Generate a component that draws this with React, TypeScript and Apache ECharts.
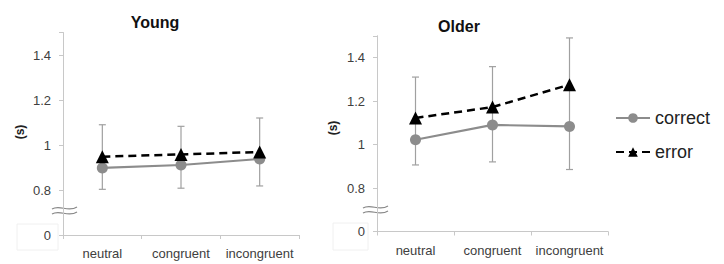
import React, { useEffect, useRef } from "react";
import * as echarts from "echarts";

const categories = ["neutral", "congruent", "incongruent"];
const panelTitles = ["Young", "Older"];

const youngCorrect = [0.898, 0.911, 0.938];
const youngError = [0.948, 0.958, 0.969];
const youngHigh = [1.09, 1.083, 1.12];
const youngLow = [0.803, 0.808, 0.818];

const olderCorrect = [1.022, 1.09, 1.083];
const olderError = [1.122, 1.172, 1.275];
const olderHigh = [1.31, 1.358, 1.49];
const olderLow = [0.906, 0.92, 0.885];

const FONT = "Liberation Sans";

function yLabel(v: number) {
  const r = Math.round(v * 10) / 10;
  if (Math.abs(r - 0.6) < 1e-6) return "0";
  if (Math.abs(r - 1.5) < 1e-6) return "";
  if (Math.abs(r - 1) < 1e-6) return "1";
  return r.toFixed(1);
}

function errBars(idx: number, low: number[], high: number[]) {
  return {
    type: "custom",
    xAxisIndex: idx,
    yAxisIndex: idx,
    z: 1,
    silent: true,
    data: low.map((l, i) => [i, l, high[i]]),
    encode: { x: 0, y: [1, 2] },
    renderItem: (params: any, api: any) => {
      const i = api.value(0);
      const lo = api.coord([i, api.value(1)]);
      const hi = api.coord([i, api.value(2)]);
      const st = { stroke: "#a0a0a0", lineWidth: 1.2 };
      return {
        type: "group",
        children: [
          { type: "line", shape: { x1: lo[0], y1: lo[1], x2: hi[0], y2: hi[1] }, style: st },
          { type: "line", shape: { x1: lo[0] - 3.5, y1: lo[1], x2: lo[0] + 3.5, y2: lo[1] }, style: st },
          { type: "line", shape: { x1: hi[0] - 3.5, y1: hi[1], x2: hi[0] + 3.5, y2: hi[1] }, style: st },
        ],
      };
    },
  };
}

function lineSeries(idx: number, name: string, data: number[]) {
  const isErr = name === "error";
  return {
    type: "line",
    name,
    xAxisIndex: idx,
    yAxisIndex: idx,
    z: isErr ? 4 : 3,
    data,
    symbol: isErr ? "triangle" : "circle",
    symbolSize: isErr ? 13 : 11,
    itemStyle: { color: isErr ? "#000000" : "#8c8c8c" },
    lineStyle: {
      color: isErr ? "#000000" : "#8c8c8c",
      width: isErr ? 2.5 : 2.2,
      type: isErr ? [8, 5] : "solid",
    },
  };
}

function breakMark(x: number, y: number) {
  const mk = (dy: number) => ({
    type: "bezierCurve",
    shape: {
      x1: x, y1: y + dy + 1,
      cpx1: x + 8, cpy1: y + dy - 4,
      cpx2: x + 16, cpy2: y + dy + 5,
      x2: x + 25, y2: y + dy - 1,
    },
    style: { stroke: "#888888", lineWidth: 1.2, fill: null },
  });
  return [mk(0), mk(5)];
}

export default function App() {
  const ref = useRef<HTMLDivElement>(null);
  useEffect(() => {
    if (!ref.current) return;
    const chart = echarts.init(ref.current, null, { renderer: "svg" });
    const grids = [
      { left: 63, width: 236, top: 32.5, height: 202.5 },
      { left: 377, width: 231, top: 35.75, height: 195.75 },
    ];
    const axisLineStyle = { color: "#c8c8c8", width: 1 };
    const option: any = {
      animation: false,
      backgroundColor: "#ffffff",
      textStyle: { fontFamily: FONT },
      grid: grids,
      xAxis: [0, 1].map((i) => ({
        type: "category",
        gridIndex: i,
        data: categories,
        boundaryGap: true,
        axisLine: { lineStyle: axisLineStyle },
        axisTick: { show: true, length: 4, lineStyle: axisLineStyle },
        axisLabel: { color: "#404040", fontSize: 13, margin: 12, fontFamily: FONT, interval: 0, hideOverlap: false },
        splitLine: { show: false },
      })),
      yAxis: [0, 1].map((i) => ({
        type: "value",
        gridIndex: i,
        min: 0.6,
        max: 1.5,
        interval: 0.2,
        axisLine: { show: true, lineStyle: axisLineStyle },
        axisTick: { show: true, length: 4, lineStyle: axisLineStyle },
        axisLabel: {
          color: "#404040",
          fontSize: 13,
          margin: 12,
          fontFamily: FONT,
          formatter: (v: number) => yLabel(v),
        },
        splitLine: { show: false },
      })),
      legend: {
        orient: "vertical",
        left: 610,
        top: 104,
        data: ["correct", "error"],
        itemWidth: 34,
        itemHeight: 12,
        itemGap: 16,
        textStyle: { fontSize: 18, color: "#222222", fontFamily: FONT },
      },
      graphic: [
        { type: "rect", shape: { x: 17, y: 224, width: 41, height: 26 }, style: { fill: "none", stroke: "#f0f0f0", lineWidth: 1 }, z: -1 },
        { type: "rect", shape: { x: 333, y: 223, width: 35, height: 27 }, style: { fill: "none", stroke: "#f0f0f0", lineWidth: 1 }, z: -1 },
        ...breakMark(52, 208),
        ...breakMark(363, 207),
        { type: "text", x: 155, y: 22, style: { text: panelTitles[0], font: `bold 16px "${FONT}"`, fill: "#111", align: "center", verticalAlign: "middle" } },
        { type: "text", x: 459, y: 26, style: { text: panelTitles[1], font: `bold 16px "${FONT}"`, fill: "#111", align: "center", verticalAlign: "middle" } },
        { type: "text", x: 20, y: 132, rotation: Math.PI / 2, style: { text: "(s)", font: `bold 12px "${FONT}"`, fill: "#222", align: "center", verticalAlign: "middle" } },
        { type: "text", x: 333, y: 128, rotation: Math.PI / 2, style: { text: "(s)", font: `bold 12px "${FONT}"`, fill: "#222", align: "center", verticalAlign: "middle" } },
      ],
      series: [
        errBars(0, youngLow, youngHigh),
        errBars(1, olderLow, olderHigh),
        lineSeries(0, "correct", youngCorrect),
        lineSeries(0, "error", youngError),
        lineSeries(1, "correct", olderCorrect),
        lineSeries(1, "error", olderError),
      ],
    };
    chart.setOption(option);
    return () => chart.dispose();
  }, []);
  return <div ref={ref} style={{ width: 724, height: 264, position: "absolute", left: 0, top: 0 }} />;
}
